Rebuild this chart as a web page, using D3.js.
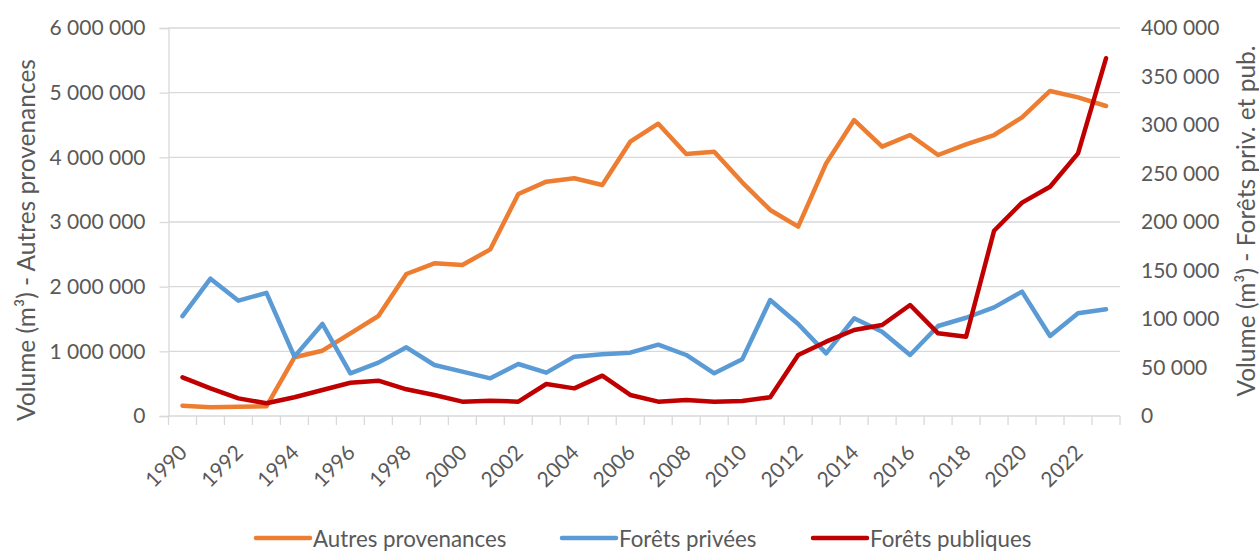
<!DOCTYPE html>
<html><head><meta charset="utf-8">
<script src="https://cdn.jsdelivr.net/npm/d3@7"></script>
<style>
body{margin:0;background:#fff;}
text{font-family:Lato,"Open Sans",sans-serif;fill:#595959;}
</style></head>
<body><svg id="c" width="1259" height="551"></svg>
<script>
const years = d3.range(1990, 2024);
const autresProvenances = [160000,134000,144000,150000,908000,1010000,1279000,1546000,2196000,2361000,2335000,2577000,3433000,3624000,3676000,3572000,4242000,4520000,4052000,4088000,3614000,3186000,2928000,3907000,4577000,4165000,4345000,4036000,4201000,4345000,4619000,5026000,4928000,4794000];
const foretsPrivees = [103000,141600,118900,127000,61200,94900,44000,55000,70800,52600,45700,38800,53600,44700,61200,63600,65300,73500,62900,44000,58400,119600,94900,64600,100700,86900,62900,92800,101300,112000,128200,82500,105900,110000];
const foretsPubliques = [39900,28500,18200,13100,19300,26800,34300,36400,27500,21700,14800,15800,14800,33000,28500,41600,21700,14800,16500,14800,15500,19300,62900,76600,88700,93800,114400,85200,81700,191000,220000,236400,270800,368800];
const leftTicks = [0,1000000,2000000,3000000,4000000,5000000,6000000];
const rightTicks = [0,50000,100000,150000,200000,250000,300000,350000,400000];
const xLabels = years.filter((y,i)=>i%2===0);
const seriesNames = ["Autres provenances","Forêts privées","Forêts publiques"];
const colors = ["#ED7D31","#5B9BD5","#C00000"];
const leftTitle = "Volume (m³) - Autres provenances";
const rightTitle = "Volume (m³) - Forêts priv. et pub.";

const svg = d3.select("#c");
const L = 168.5, R = 1120, T = 28, B = 416;
const x = d3.scaleBand().domain(years).range([L, R]).padding(0);
const yL = d3.scaleLinear().domain([0, 6000000]).range([B, T]);
const yR = d3.scaleLinear().domain([0, 400000]).range([B, T]);
const fmt = v => d3.format(",")(v).replace(/,/g, "\u00a0");

// gridlines
svg.append("g").selectAll("line").data(leftTicks.slice(1)).join("line")
  .attr("x1", L).attr("x2", R).attr("y1", d=>yL(d)).attr("y2", d=>yL(d))
  .attr("stroke", "#d9d9d9").attr("stroke-width", 1.3);

// left axis
const gl = svg.append("g").attr("transform", `translate(${L},0)`)
  .call(d3.axisLeft(yL).tickValues(leftTicks).tickSize(9).tickPadding(14).tickFormat(fmt));
gl.select(".domain").attr("stroke", "#d9d9d9").attr("stroke-width", 1.3);
gl.selectAll(".tick line").attr("stroke", "#d9d9d9").attr("stroke-width", 1.3);
gl.selectAll("text").style("font-size", "21px").attr("fill", "#595959");

// right axis (labels only)
const gr = svg.append("g").attr("transform", `translate(${R},0)`)
  .call(d3.axisRight(yR).tickValues(rightTicks).tickSize(0).tickPadding(21).tickFormat(fmt));
gr.select(".domain").remove();
gr.selectAll("text").style("font-size", "21px").attr("fill", "#595959");

// x axis
const gx = svg.append("g").attr("transform", `translate(0,${B})`);
gx.append("line").attr("x1", L).attr("x2", R).attr("stroke", "#d9d9d9").attr("stroke-width", 1.3);
const bounds = years.map(y => x(y)).concat([R]);
gx.selectAll("line.t").data(bounds).join("line").attr("class","t")
  .attr("x1", d=>d).attr("x2", d=>d).attr("y1", 0).attr("y2", 9)
  .attr("stroke", "#d9d9d9").attr("stroke-width", 1.3);
gx.selectAll("text").data(xLabels).join("text")
  .attr("text-anchor", "end")
  .attr("transform", d => `translate(${x(d) + x.bandwidth()/2 + 6},${38}) rotate(-45)`)
  .style("font-size", "21px").text(d => d);

// lines
const cx = d => x(d) + x.bandwidth()/2;
const dataSets = [[autresProvenances, yL],[foretsPrivees, yR],[foretsPubliques, yR]];
dataSets.forEach(([vals, ys], i) => {
  const line = d3.line().x((v,j)=>cx(years[j])).y(v=>ys(v));
  svg.append("path").datum(vals).attr("d", line).attr("fill","none")
    .attr("stroke", colors[i]).attr("stroke-width", 4.5)
    .attr("stroke-linejoin","round").attr("stroke-linecap","round");
});

// axis titles
svg.append("text").attr("transform", "translate(25,240) rotate(-90)")
  .attr("text-anchor","middle").attr("dominant-baseline","central")
  .style("font-size","24.5px").text(leftTitle);
svg.append("text").attr("transform", "translate(1245,221) rotate(-90)")
  .attr("text-anchor","middle").attr("dominant-baseline","central")
  .style("font-size","24.5px").text(rightTitle);

// legend
const legX = [256, 562, 813];
const lg = svg.append("g");
seriesNames.forEach((n,i)=>{
  lg.append("line").attr("x1", legX[i]).attr("x2", legX[i]+54).attr("y1", 538).attr("y2", 538)
    .attr("stroke", colors[i]).attr("stroke-width", 4.5).attr("stroke-linecap","round");
  lg.append("text").attr("x", legX[i]+57).attr("y", 538).attr("dominant-baseline","central")
    .style("font-size","22.3px").text(n);
});
</script></body></html>
